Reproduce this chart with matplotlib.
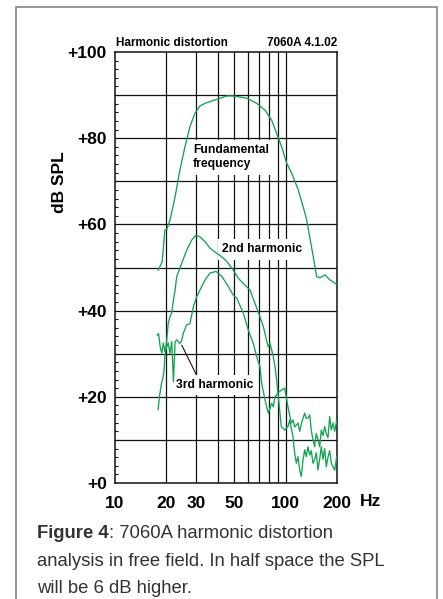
import matplotlib.pyplot as plt
import matplotlib.patches as mpatches
from matplotlib.ticker import MultipleLocator, NullLocator

plt.rcParams['font.family'] = ['Liberation Sans', 'DejaVu Sans']

# fundamental (Hz, dB SPL)
fund_f = [17.9, 18.9, 19.6, 20.1, 21.0, 22.5, 24.0, 25.7, 27.5, 29.4, 31.5, 33.7, 36.0,
          39.4, 45.2, 49.3, 59.1, 67.7, 75.7, 82.8, 88.6, 94.8, 101.4, 108.5, 118.6,
          129.8, 132.8, 145.2, 152.0, 158.9, 170.0, 182.0, 199.0]
fund_db = [49.4, 51.3, 58.7, 58.8, 61.0, 66.4, 72.6, 78.0, 82.7, 85.8, 87.5, 88.1, 88.5,
           89.0, 89.8, 89.8, 89.3, 88.1, 86.5, 84.2, 81.1, 78.0, 74.2, 71.9, 68.0,
           62.6, 61.0, 52.5, 47.9, 47.6, 48.3, 47.1, 46.1]

# 2nd harmonic
h2_f = [17.9, 18.2, 18.8, 19.0, 19.4, 19.6, 20.1, 20.5, 21.0, 21.5, 22.0, 22.5, 23.0,
        24.6, 26.3, 28.2, 29.8, 31.5, 33.7, 36.0, 39.4, 42.2, 45.2, 49.3, 52.8, 57.8,
        61.8, 66.1, 70.7, 74.0, 77.4, 79.1, 80.9, 84.7, 86.6, 88.6, 94.3, 98.7, 103.2,
        105.6, 110.4, 113.0, 115.5, 118.2, 120.9, 123.5, 126.4, 129.3, 132.1, 135.2,
        138.4, 141.3, 144.6, 148.0, 151.2, 154.7, 158.3, 161.8, 165.5, 169.3, 173.0,
        177.1, 181.2, 185.2, 189.5, 193.9, 199.2]
h2_db = [17.0, 20.0, 23.5, 23.9, 26.2, 29.3, 33.2, 37.0, 38.6, 39.5, 42.5, 44.8, 47.9,
         51.0, 54.0, 56.4, 57.5, 57.1, 56.0, 54.5, 53.3, 52.5, 51.4, 49.4, 47.5, 45.9,
         44.8, 41.7, 38.6, 36.3, 33.0, 31.6, 32.5, 29.3, 27.0, 23.9, 13.1, 12.3, 13.1,
         14.6, 10.8, 6.9, 4.6, 6.1, 3.0, 1.5, 5.3, 7.7, 6.1, 8.4,
         6.5, 7.5, 4.6, 5.5, 7.0, 3.0, 5.5, 8.4, 5.5, 8.0, 3.8,
         6.0, 7.5, 4.6, 3.8, 3.0, 6.1]

# 3rd harmonic
h3_f = [17.7, 18.0, 18.4, 18.8, 19.2, 19.6, 20.5, 21.0, 21.5, 22.0, 22.5, 23.0, 24.0,
        24.6, 25.1, 26.3, 27.5, 28.8, 30.1, 31.5, 33.7, 36.0, 39.1, 42.2, 46.1, 49.3,
        51.7, 56.5, 60.4, 64.6, 67.7, 70.7, 72.4, 75.7, 79.1, 82.8, 84.7, 86.6, 90.2,
        94.8, 98.7, 103.2, 107.9, 110.4, 113.0, 118.2, 121.0, 124.0, 129.3, 132.1,
        135.2, 138.4, 141.3, 144.6, 148.0, 151.2, 154.7, 158.3, 161.8, 165.5, 169.3,
        173.0, 177.1, 181.2, 185.2, 189.5, 193.9, 199.2]
h3_db = [34.3, 34.7, 31.6, 30.1, 32.5, 30.5, 32.5, 30.0, 32.8, 23.5, 32.8, 33.2, 32.4,
         33.0, 34.7, 36.7, 37.0, 40.9, 43.2, 44.8, 47.1, 48.7, 49.1, 48.0, 45.6, 43.6,
         42.9, 39.4, 35.5, 32.4, 29.3, 27.0, 23.1, 19.3, 16.2, 18.5, 17.7, 20.0, 20.9,
         21.6, 22.0, 17.7, 13.9, 14.6, 13.0, 13.9, 12.0, 14.0, 16.2, 15.0,
         15.1, 15.8, 12.3, 10.0, 8.4, 11.5, 10.0, 8.4, 12.3, 11.0, 13.1,
         11.5, 10.5, 15.4, 12.3, 13.9, 12.0, 14.6]

xticks = [10, 20, 30, 50, 100, 200]
yticks = [0, 20, 40, 60, 80, 100]
grid_f = [20, 30, 40, 50, 60, 70, 80, 90, 100]
grid_db = [10, 20, 30, 40, 50, 60, 70, 80, 90]

green = '#14a352'

fig = plt.figure(figsize=(4.43, 5.99), dpi=100)
ax = fig.add_axes([115/443, 1-483/599, 222/443, 431/599])

for f in grid_f:
    ax.axvline(f, color='#111111', lw=0.9, zorder=1)
for d in grid_db:
    ax.axhline(d, color='#111111', lw=0.9, zorder=1)

ax.plot(fund_f, fund_db, color=green, lw=0.95, zorder=4)
ax.plot(h2_f, h2_db, color=green, lw=0.95, zorder=4)
ax.plot(h3_f, h3_db, color=green, lw=0.95, zorder=4)

ax.set_xscale('log')
ax.set_xlim(10, 200)
ax.set_ylim(0, 100)
ax.set_xticks(xticks, [str(t) for t in xticks])
ax.xaxis.set_minor_locator(NullLocator())
ax.set_yticks(yticks, ['+%d' % t for t in yticks])
ax.yaxis.set_minor_locator(MultipleLocator(2))
ax.tick_params(axis='both', which='major', length=0, labelsize=12.5)
ax.tick_params(axis='x', pad=9)
ax.tick_params(axis='y', pad=6)
ax.tick_params(axis='y', which='minor', direction='in', length=2, width=0.8, color='#111111')
for lab in ax.get_xticklabels() + ax.get_yticklabels():
    lab.set_fontweight('bold')
for s in ax.spines.values():
    s.set_linewidth(1.1)
    s.set_color('#111111')

ax.annotate('Harmonic distortion', xy=(0, 1), xycoords='axes fraction',
            xytext=(1, 4), textcoords='offset points', ha='left', va='baseline',
            fontsize=8.5, fontweight='bold')
ax.annotate('7060A 4.1.02', xy=(1, 1), xycoords='axes fraction',
            xytext=(0, 4), textcoords='offset points', ha='right', va='baseline',
            fontsize=8.5, fontweight='bold')
ax.annotate('Hz', xy=(1, 0), xycoords='axes fraction',
            xytext=(24, -8), textcoords='offset points', ha='center', va='top',
            fontsize=12.5, fontweight='bold')
fig.text(60/443, 1-182/599, 'dB SPL', rotation=90, ha='center', va='center',
         fontsize=12.5, fontweight='bold')

box = dict(facecolor='white', edgecolor='none', pad=3)
ax.text(28.6, 78.6, 'Fundamental\nfrequency', ha='left', va='top', fontsize=8.7,
        fontweight='bold', linespacing=1.25, bbox=box, zorder=3)
ax.annotate('2nd harmonic', xy=(43.1, 51.9), xytext=(42.5, 54.2),
            ha='left', va='center', fontsize=8.7, fontweight='bold', bbox=box, zorder=3,
            arrowprops=dict(arrowstyle='-', color='#111111', lw=0.8, relpos=(0.04, 0.0),
                            shrinkA=0, shrinkB=0))
ax.annotate('3rd harmonic', xy=(24.6, 32.0), xytext=(22.8, 22.7),
            ha='left', va='center', fontsize=8.7, fontweight='bold', bbox=box, zorder=3,
            arrowprops=dict(arrowstyle='-', color='#111111', lw=0.8, relpos=(0.29, 1.0),
                            shrinkA=0, shrinkB=0))

# frame and caption
fig.patches.append(mpatches.Rectangle((16/443, -0.1), 421/443, 1.1 - 7/599,
                                      transform=fig.transFigure, fill=False,
                                      edgecolor='#7a7a7a', lw=1.1))
cap = '#333333'
t1 = fig.text(37/443, 1-538/599, 'Figure 4', ha='left', va='baseline',
              fontsize=13.3, fontweight='bold', color=cap)
ax.annotate(': 7060A harmonic distortion', xy=(1, 0), xycoords=t1, ha='left', va='bottom',
            fontsize=13.3, color=cap, annotation_clip=False)
fig.text(37/443, 1-566/599, 'analysis in free field. In half space the SPL', ha='left',
         va='baseline', fontsize=13.3, color=cap)
fig.text(37/443, 1-593/599, 'will be 6 dB higher.', ha='left', va='baseline',
         fontsize=13.3, color=cap)

fig.savefig('out.png', dpi=100)
